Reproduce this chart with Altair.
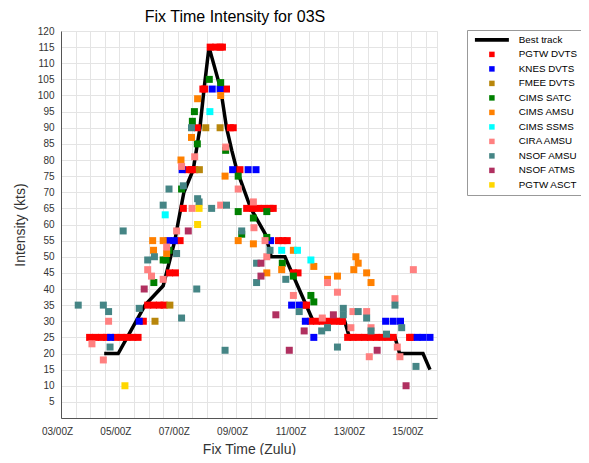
import altair as alt
import pandas as pd

# ---------------- data ----------------
series_names = ["Best track", "PGTW DVTS", "KNES DVTS", "FMEE DVTS", "CIMS SATC",
                "CIMS AMSU", "CIMS SSMS", "CIRA AMSU", "NSOF AMSU", "NSOF ATMS", "PGTW ASCT"]
series_colors = ["#000000", "#FF0000", "#0000FF", "#B8860B", "#008000",
                 "#FF8000", "#00FFFF", "#FF8080", "#458585", "#B03060", "#FFD700"]

# fix times in days of the month (e.g. 8.25 = 08/06Z), intensity in kts
bt_t = [4.48, 4.96, 5.88, 6.5, 6.9, 7.02, 7.21, 7.53, 7.76, 7.9, 8.07, 8.47, 8.67, 8.85,
        9.02, 9.5, 10.0, 10.2, 10.67, 11.64, 12.72, 12.88, 14.44, 14.6, 15.4, 15.64]
bt_v = [20, 20, 35, 41, 55, 61, 70, 77, 90, 102, 115, 102, 90, 83,
        77, 65, 57, 50, 50, 30, 30, 25, 25, 20, 20, 15]

pgtw_dvts_t = [3.98, 4.18, 4.38, 4.56, 4.86, 5.06, 5.26, 5.46, 5.64, 5.82,
               5.97, 6.17, 6.37, 6.53, 6.72, 6.92, 7.08, 7.19, 7.35, 7.47, 7.58, 7.67,
               7.86, 7.92, 8.11, 8.3, 8.45, 8.53, 8.67, 8.8, 8.9, 9.13,
               9.36, 9.56, 9.76, 9.96, 10.16, 10.27, 10.45, 10.6, 10.75, 10.96, 11.12,
               11.32, 11.41, 11.55, 11.75, 11.95, 12.15, 12.35, 12.55, 12.64,
               12.82, 13.0, 13.2, 13.4, 13.6, 13.8, 14.0, 14.2, 14.38, 14.94, 15.0]
pgtw_dvts_v = [25, 25, 25, 25, 25, 25, 25, 25, 25, 30,
               35, 35, 35, 35, 45, 45, 55, 65, 77, 77, 77, 90,
               102, 102, 115, 115, 115, 115, 102, 90, 90, 77,
               65, 65, 65, 65, 65, 65, 55, 55, 55, 45, 45,
               35, 35, 30, 30, 30, 30, 30, 30, 30,
               25, 25, 25, 25, 25, 25, 25, 25, 25, 25, 25]

knes_dvts_t = [4.70, 5.68, 6.67, 6.88, 7.15, 8.18, 8.45, 8.88, 9.41, 9.68, 10.18,
               10.9, 11.16, 11.37, 11.66, 14.12, 14.38, 14.63, 15.2, 15.4, 15.64]
knes_dvts_v = [25, 30, 55, 55, 77, 102, 102, 77, 77, 77, 55,
               35, 35, 30, 25, 30, 30, 30, 25, 25, 25]

fmee_dvts_t = [6.22, 6.73, 7.74, 7.96, 8.45]
fmee_dvts_v = [30, 35, 77, 90, 90]

cims_satc_t = [6.18, 6.5, 6.6, 6.7, 7.13, 7.5, 7.57, 7.67, 8.08, 8.47, 8.64, 9.07,
               9.07, 9.19, 9.59, 10.05, 10.05, 10.58, 10.96, 11.56, 11.66]
cims_satc_v = [42, 49, 49, 52, 71, 92, 95, 85, 105, 104, 83, 75,
               64, 57, 62, 64, 56, 48, 44, 38, 36]

cims_amsu_t = [6.14, 6.5, 6.17, 6.62, 7.11, 7.47, 7.68, 8.47, 8.62, 9.07, 9.59, 10.05,
               10.56, 10.96, 11.66, 12.13, 12.47, 13.1, 13.18, 13.03, 13.47, 13.62]
cims_amsu_v = [55, 55, 52, 51, 80, 87, 99, 100, 75, 55, 54, 45,
               46, 52, 47, 43, 44, 50, 48, 46, 45, 42]

cims_ssms_t = [6.57, 8.1, 10.56, 11.1, 11.56]
cims_ssms_v = [63, 95, 52, 52, 49]

cira_amsu_t = [4.06, 4.45, 4.63, 5.97, 6.1, 6.5, 6.62, 6.96, 7.13, 7.49, 7.58, 8.47,
               8.64, 9.07, 9.59, 9.61, 9.99, 10.05, 10.96, 11.95, 12.13, 12.47, 12.93,
               13.0, 13.47, 13.56, 13.62, 14.44, 14.52, 14.61, 15.07]
cira_amsu_v = [23, 18, 30, 46, 44, 43, 53, 58, 78, 65, 81, 66,
               84, 71, 67, 59, 55, 50, 38, 31, 42, 39, 28,
               33, 33, 19, 28, 37, 22, 19, 46]

nsof_amsu_t = [3.59, 4.45, 4.63, 4.68, 5.13, 5.68, 5.97, 6.2, 6.5, 6.7, 6.96, 7.13,
               7.19, 7.47, 7.65, 7.68, 7.73, 8.16, 8.62, 8.67, 9.19, 9.7, 9.7, 10.16,
               10.7, 11.16, 11.93, 12.13, 12.47, 12.67, 12.67, 13.18, 13.47, 13.62,
               14.15, 14.44, 14.67, 15.16]
nsof_amsu_v = [35, 35, 33, 22, 58, 34, 49, 50, 66, 71, 51, 31,
               72, 90, 40, 68, 67, 65, 21, 66, 58, 48, 42, 52,
               43, 33, 27, 28, 22, 34, 32, 33, 31, 27,
               26, 35, 28, 16]

nsof_atms_t = [5.85, 7.36, 9.85, 9.85, 10.36, 10.82, 11.33, 12.33, 13.83, 14.82]
nsof_atms_v = [40, 58, 48, 44, 32, 21, 27, 32, 21, 10]

pgtw_asct_t = [5.19, 7.68, 7.73]
pgtw_asct_v = [10, 60, 65]

# ---------------- tables ----------------
groups = [
    ("PGTW DVTS", pgtw_dvts_t, pgtw_dvts_v),
    ("KNES DVTS", knes_dvts_t, knes_dvts_v),
    ("FMEE DVTS", fmee_dvts_t, fmee_dvts_v),
    ("CIMS SATC", cims_satc_t, cims_satc_v),
    ("CIMS AMSU", cims_amsu_t, cims_amsu_v),
    ("CIMS SSMS", cims_ssms_t, cims_ssms_v),
    ("CIRA AMSU", cira_amsu_t, cira_amsu_v),
    ("NSOF AMSU", nsof_amsu_t, nsof_amsu_v),
    ("NSOF ATMS", nsof_atms_t, nsof_atms_v),
    ("PGTW ASCT", pgtw_asct_t, pgtw_asct_v),
]
rows = []
for name, ts, vs in groups:
    for t, v in zip(ts, vs):
        rows.append({"t": t, "v": v, "series": name})
pts = pd.DataFrame(rows)
bt = pd.DataFrame({"t": bt_t, "v": bt_v})

FONT = "Liberation Sans"
line_path = "M-6.2,-0.7L6.2,-0.7L6.2,0.7L-6.2,0.7Z"
shape_range = [line_path] + ["square"] * 10

x_ticks = [3 + 0.5 * i for i in range(26)]
y_ticks = [5 * i for i in range(25)]

x_enc = alt.X(
    "t:Q",
    scale=alt.Scale(domain=[3, 15.88], nice=False, zero=False),
    axis=alt.Axis(
        values=x_ticks,
        labelExpr="datum.value % 2 == 1 ? ((datum.value < 10 ? '0' : '') + datum.value + '/00Z') : ''",
        labelOverlap=False,
        labelFlush=False,
        labelOffset=-4,
        title="Fix Time (Zulu)",
    ),
)
y_enc = alt.Y(
    "v:Q",
    scale=alt.Scale(domain=[0, 120], nice=False),
    axis=alt.Axis(
        values=y_ticks,
        labelExpr="datum.value == 0 ? '' : datum.value",
        labelOverlap=False,
        labelFlush=False,
        title="Intensity (kts)",
    ),
)

line = alt.Chart(bt).mark_line(color="black", strokeWidth=3.5).encode(x=x_enc, y=y_enc)

points = alt.Chart(pts).mark_point(filled=True, size=49, opacity=1, strokeWidth=0).encode(
    x=x_enc,
    y=y_enc,
    color=alt.Color("series:N", sort=series_names,
                    scale=alt.Scale(domain=series_names, range=series_colors),
                    legend=alt.Legend(title=None)),
    shape=alt.Shape("series:N", sort=series_names,
                    scale=alt.Scale(domain=series_names, range=shape_range),
                    legend=alt.Legend(title=None)),
)

chart = alt.layer(line, points).properties(
    width=376,
    height=387,
    title=alt.TitleParams("Fix Time Intensity for 03S", fontSize=16, font=FONT,
                          fontWeight="normal", color="#000000", dx=-14, offset=1),
    autosize=alt.AutoSizeParams(type="none"),
    padding={"left": 53, "top": 23, "right": 144, "bottom": 37},
).configure_axis(
    labelFont=FONT, labelFontSize=10, labelColor="#333333",
    titleFont=FONT, titleFontSize=14, titleFontWeight="normal", titleColor="#333333",
    gridColor="#e4e4e4", gridWidth=1,
    domainColor="#555555", domainWidth=1,
    ticks=False,
).configure_axisX(
    labelPadding=8, titlePadding=6,
).configure_axisY(
    labelPadding=7, titlePadding=10,
).configure_view(
    stroke="#e4e4e4",
).configure_legend(
    orient="none", legendX=406, legendY=-1,
    strokeColor="#999999", padding=5,
    labelFont=FONT, labelFontSize=9.8, labelColor="#000000",
    symbolSize=30, symbolOffset=15, labelOffset=22, rowPadding=3.5,
    symbolStrokeWidth=0,
)

chart.save("out.html", embed_options={"renderer": "svg", "actions": False})
